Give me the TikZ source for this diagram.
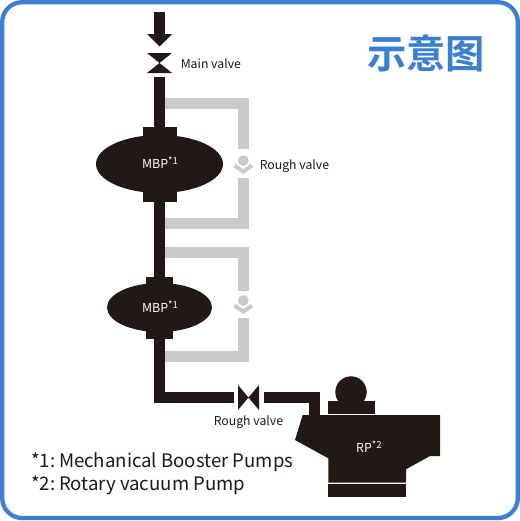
\documentclass[tikz,border=0pt]{standalone}
\usepackage{fontspec}
\setmainfont{Noto Sans CJK JP}
\newfontfamily\cjkbold[BoldFont={Noto Sans CJK SC Bold}]{Noto Sans CJK SC}
\usetikzlibrary{shapes.geometric}
\definecolor{ink}{HTML}{231815}
\definecolor{pale}{HTML}{C9CACA}
\definecolor{frameblue}{HTML}{3A7FD2}
\definecolor{txt}{HTML}{231815}
\newcommand{\uppermark}[1]{\raisebox{3pt}{\fontsize{7.2pt}{8pt}\selectfont #1}}
\tikzset{
  x=0.75pt,y=-0.75pt,
  pipe/.style={draw=ink,line width=8.25pt,line cap=butt,line join=miter},
  bypass/.style={draw=pale,line width=8.25pt,line cap=butt,line join=miter},
  solid ink/.style={fill=ink,draw=none},
  solid pale/.style={fill=pale,draw=none},
  pump/.style={ellipse,fill=ink,draw=none,inner sep=0pt},
  pumptext/.style={text=white,inner sep=0pt,font=\fontsize{9.3pt}{11pt}\selectfont},
  caption/.style={text=txt,inner sep=0pt,anchor=base west,font=\fontsize{9.2pt}{11pt}\selectfont},
  legend/.style={text=txt,inner sep=0pt,anchor=base west,font=\fontsize{13.95pt}{17pt}\selectfont},
  chevron/.style={draw=pale,line width=3pt,line join=miter},
}
\begin{document}
\begin{tikzpicture}
\useasboundingbox (0,0) rectangle (520,521);
\fill[white] (0,0) rectangle (520,521);
\draw[frameblue,line width=3.2pt,rounded corners=15pt] (2.2,2.2) rectangle (517.8,518);

\coordinate (inA) at (159.5,12);
\coordinate (inB) at (159.5,35);
\coordinate (mainv) at (159.5,63);
\coordinate (mainout) at (159.5,77);
\coordinate (bendA) at (159.5,397.5);
\coordinate (rvL) at (234,397.5);
\coordinate (rvc) at (248.5,397.5);
\coordinate (rvR) at (263.5,397.5);
\coordinate (bendB) at (314.5,397.5);
\coordinate (rpin) at (314.5,415);

\coordinate (g1a) at (165,103.5);
\coordinate (g1b) at (243.5,103.5);
\coordinate (g1c) at (243.5,149);
\coordinate (g1d) at (243.5,178);
\coordinate (g1e) at (243.5,223.5);
\coordinate (g1f) at (165,223.5);
\coordinate (g2a) at (165,252.5);
\coordinate (g2b) at (243.5,252.5);
\coordinate (g2c) at (243.5,291);
\coordinate (g2d) at (243.5,318);
\coordinate (g2e) at (243.5,356.5);
\coordinate (g2f) at (165,356.5);
\draw[bypass] (g1a) -- (g1b) -- (g1c);
\draw[bypass] (g1d) -- (g1e) -- (g1f);
\draw[bypass] (g2a) -- (g2b) -- (g2c);
\draw[bypass] (g2d) -- (g2e) -- (g2f);

\fill[solid pale] (243.3,160.5) circle (5.4);
\draw[chevron] (234.6,165.5) -- (243.3,171.6) -- (252,165.5);
\fill[solid pale] (243.3,300.5) circle (5.4);
\draw[chevron] (234.6,305.5) -- (243.3,311.6) -- (252,305.5);

\draw[pipe] (inA) -- (inB);
\fill[solid ink] (147,34) -- (172,34) -- (159.5,46.5) -- cycle;
\fill[solid ink] (147,53) -- (172,53) -- (159.5,63) -- (172,73) -- (147,73) -- (159.5,63) -- cycle;

\node[pump,minimum width=95.25pt,minimum height=43.5pt] (mbpA) at (159.5,164) {};
\node[pump,minimum width=78.75pt,minimum height=36.75pt] (mbpB) at (159.5,307.5) {};
\fill[solid ink] (143,127) rectangle (177,202);
\fill[solid ink] (146,277) rectangle (173,339);
\draw[pipe] (mainout) -- (mbpA);
\draw[pipe] (mbpA) -- (mbpB);
\draw[pipe] (mbpB) -- (bendA) -- (rvL);
\draw[pipe] (rvR) -- (bendB) -- (rpin);

\node[pumptext] (mbpAt) at (160,163) {MBP\uppermark{*1}};
\node[pumptext] (mbpBt) at (160,307) {MBP\uppermark{*1}};

\fill[solid ink] (238,385) -- (248.5,397.5) -- (259,385) -- (259,410) -- (248.5,397.5) -- (238,410) -- cycle;

\fill[solid ink] (351,392) circle (15.7);
\fill[solid ink] (328.3,400.7) rectangle (374.7,413.7);
\fill[solid ink] (302.7,415) -- (440,415) -- (440,456) -- (430,456) -- (406,469.3) -- (406,482.7) -- (328.3,482.7) -- (328.3,458.3) -- (295,440) -- cycle;
\fill[solid ink] (328.3,484) rectangle (406,496.7);
\node[pumptext] (rpt) at (369,447) {RP\uppermark{*2}};

\node[caption] (lmain) at (180.5,68) {Main valve};
\node[caption] (lr1) at (259.5,169) {Rough valve};
\node[caption] (lr3) at (213.5,425) {Rough valve};
\node[legend] (l1) at (31,467) {*1:\hspace{-1.5pt} Mechanical Booster Pumps};
\node[legend] (l2) at (31,490) {*2:\hspace{-1.5pt} Rotary vacuum Pump};
\node[text=frameblue,inner sep=0pt,font=\cjkbold\bfseries\fontsize{29.5pt}{32pt}\selectfont] (title) at (426,53) {示意图};
\end{tikzpicture}
\end{document}
